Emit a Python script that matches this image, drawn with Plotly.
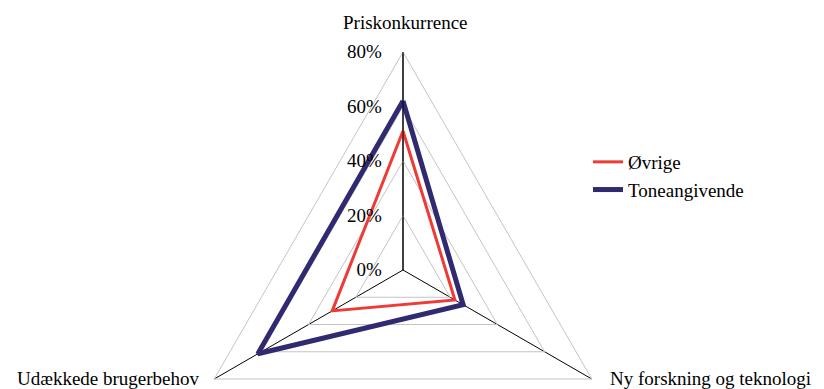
import plotly.graph_objects as go

# Radar: share of firms citing each driver (%)
categories = ["Priskonkurrence", "Ny forskning og teknologi", "Udækkede brugerbehov"]
oevrige = [51, 22, 30]
toneangivende = [62, 25.5, 61.5]
radial_ticks = [0, 20, 40, 60, 80]
radial_tick_labels = ["0%", "20%", "40%", "60%", "80%"]

_FONT = "Liberation Serif, Times New Roman, serif"
_RED = "#EF3A36"
_NAVY = "#302A70"
_GRID = "#C4C4C4"

# page body has an 8px margin, so pixel targets are shifted by 8
W, H = 824, 500
R = 218
cx, cy = 395, 262


def px_x(x):
    return x / W


def px_y(y):
    return 1 - y / H


fig = go.Figure()
fig.add_trace(go.Scatterpolar(
    r=oevrige + oevrige[:1], theta=categories + categories[:1],
    mode="lines", name="Øvrige",
    line=dict(color=_RED, width=3)))
fig.add_trace(go.Scatterpolar(
    r=toneangivende + toneangivende[:1], theta=categories + categories[:1],
    mode="lines", name="Toneangivende",
    line=dict(color=_NAVY, width=5)))

# category labels around the triangle
label_pos = [(cx + 2, 14, "center"), (600, 370, "left"), (194, 370, "right")]
for name, (x, y, anchor) in zip(categories, label_pos):
    fig.add_annotation(text=name, x=px_x(x), y=px_y(y), xref="paper", yref="paper",
                       xanchor=anchor, yanchor="middle", showarrow=False,
                       font=dict(size=19))

fig.update_layout(
    width=W, height=H,
    margin=dict(l=0, r=0, t=0, b=0),
    paper_bgcolor="white",
    font=dict(family=_FONT, size=19, color="black"),
    showlegend=True,
    legend=dict(x=px_x(580), y=px_y(135), xanchor="left", yanchor="top",
                font=dict(size=19), bgcolor="rgba(0,0,0,0)"),
    polar=dict(
        domain=dict(x=[px_x(cx - R), px_x(cx + R)], y=[px_y(cy + R), px_y(cy - R)]),
        bgcolor="white",
        gridshape="linear",
        angularaxis=dict(
            rotation=90, direction="clockwise",
            showline=True, linecolor=_GRID, linewidth=1,
            gridcolor="black", gridwidth=1,
            ticks="", showticklabels=False),
        radialaxis=dict(
            range=[0, 80], tickmode="array", tickvals=radial_ticks,
            ticktext=radial_tick_labels,
            angle=90, side="counterclockwise", tickangle=90,
            showline=True, linecolor="black", linewidth=1,
            gridcolor=_GRID, gridwidth=1,
            ticks="outside", ticklen=14, tickcolor="rgba(0,0,0,0)",
            tickfont=dict(size=19)),
    ),
)

fig.write_html("out.html")
